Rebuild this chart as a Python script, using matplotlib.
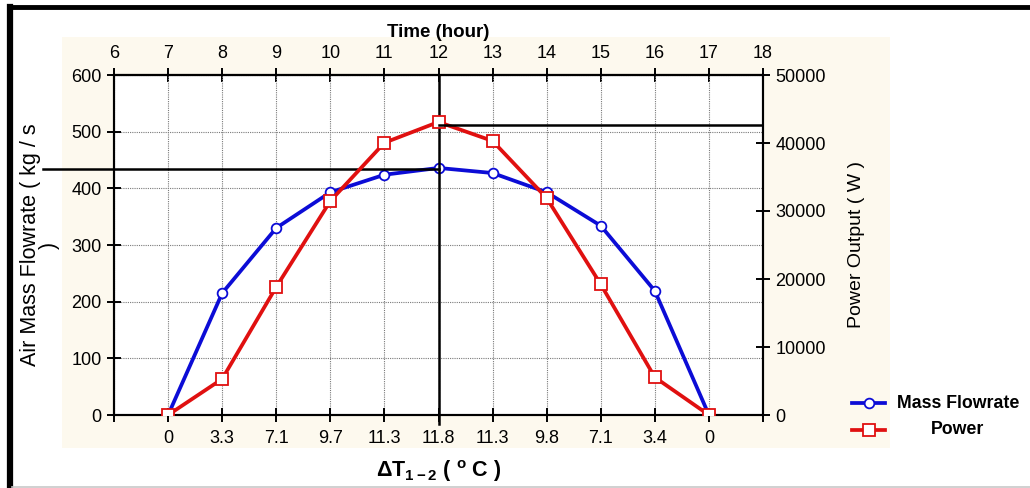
import matplotlib
matplotlib.use('Agg')
import matplotlib.pyplot as plt
from matplotlib.patches import Rectangle
from matplotlib.lines import Line2D

plt.rcParams['font.family'] = ['Liberation Sans', 'DejaVu Sans']
plt.rcParams['mathtext.fontset'] = 'custom'
plt.rcParams['mathtext.rm'] = 'Liberation Sans'
plt.rcParams['mathtext.bf'] = 'Liberation Sans:bold'

# hourly readings
hours = [7, 8, 9, 10, 11, 12, 13, 14, 15, 16, 17]
mass_flow = [0, 215, 330, 393, 424, 436, 427, 393, 334, 219, 0]          # kg/s
power = [0, 5300, 18830, 31470, 40040, 43090, 40300, 31900, 19220, 5540, 0]  # W
delta_t = ['0', '3.3', '7.1', '9.7', '11.3', '11.8', '11.3', '9.8', '7.1', '3.4', '0']

hour_ticks = list(range(6, 19))
flow_ticks = [0, 100, 200, 300, 400, 500, 600]
power_ticks = [0, 10000, 20000, 30000, 40000, 50000]

# guide lines through the peak
peak_hour = 12
flow_guide = 434
power_guide = 42700

blue = '#0c0cd6'
red = '#e01010'

fig = plt.figure(figsize=(10.30, 4.88), dpi=100)

# cream panel behind the chart + outer frame
fig.add_artist(Rectangle((62 / 1030, 1 - 448 / 488), (890 - 62) / 1030, (448 - 37) / 488,
                         transform=fig.transFigure, facecolor='#fdf9ee', edgecolor='none', zorder=-10))
fig.add_artist(Line2D([9.5 / 1030, 9.5 / 1030], [0, 1 - 7 / 488], transform=fig.transFigure,
                      color='black', lw=4.5, solid_capstyle='projecting'))
fig.add_artist(Line2D([9.5 / 1030, 1], [1 - 7 / 488, 1 - 7 / 488], transform=fig.transFigure,
                      color='black', lw=3.5))
fig.add_artist(Line2D([12 / 1030, 1], [1 - 486.5 / 488, 1 - 486.5 / 488], transform=fig.transFigure,
                      color='#c8c8c8', lw=1.2))

ax = fig.add_axes([114 / 1030, 1 - 415 / 488, (763 - 114) / 1030, (415 - 75) / 488])
ax.set_facecolor('white')
ax.set_xlim(6, 18)
ax.set_ylim(0, 600)

ax.grid(True, color='#7a7a7a', linestyle=(0, (1, 1)), linewidth=0.8)
ax.set_axisbelow(True)

ax.plot(hours, mass_flow, color=blue, lw=2.7, marker='o', ms=7,
        markerfacecolor='white', markeredgecolor=blue, markeredgewidth=1.3, zorder=3)

ax2 = ax.twinx()
ax2.set_ylim(0, 50000)
ax2.plot(hours, power, color=red, lw=2.7, marker='s', ms=8,
         markerfacecolor='white', markeredgecolor=red, markeredgewidth=1.3, zorder=3)

ax.axhline(flow_guide, xmin=-0.11, xmax=(peak_hour - 6) / 12, color='black', lw=1.8,
           clip_on=False, zorder=4)
ax2.axhline(power_guide, xmin=(peak_hour - 6) / 12, xmax=1, color='black', lw=1.8, zorder=4)
ax.axvline(peak_hour, ymin=-0.025, ymax=1, color='black', lw=1.8, clip_on=False, zorder=4)

# bottom axis: temperature difference per hour
ax.set_xticks(hour_ticks)
ax.set_xticklabels([''] + delta_t + [''])
ax.set_yticks(flow_ticks)
ax2.set_yticks(power_ticks)

top = ax.secondary_xaxis('top')
top.set_xticks(hour_ticks)
top.set_xticklabels([str(h) for h in hour_ticks])

for a in (ax, ax2, top):
    a.tick_params(direction='inout', length=10, width=1.4, labelsize=13, color='black', pad=4)
ax.tick_params(axis='x', pad=6)
for sp in ax.spines.values():
    sp.set_linewidth(1.5)
for sp in ax2.spines.values():
    sp.set_linewidth(1.5)
top.spines['top'].set_linewidth(1.5)

ax.set_ylabel('Air Mass Flowrate ( kg / s\n)', fontsize=15.5, labelpad=8, multialignment='center',
              linespacing=0.9)
ax2.set_ylabel('Power Output ( W )', fontsize=14, labelpad=16)
ax.set_xlabel(r'$\mathbf{\Delta T_{1-2}}$ ( $^{\mathbf{o}}$ C )', fontsize=15.5, fontweight='bold', labelpad=8)
top.set_xlabel('Time (hour)', fontsize=13.5, fontweight='bold', labelpad=6)

# legend
for y, c, m, ms, label in [(1 - 403 / 488, blue, 'o', 7, 'Mass Flowrate'),
                           (1 - 430 / 488, red, 's', 8, 'Power')]:
    fig.add_artist(Line2D([852 / 1030, 868.5 / 1030, 885 / 1030], [y, y, y], transform=fig.transFigure,
                          color=c, lw=2.7, marker=m, ms=ms, markevery=[1],
                          markerfacecolor='white', markeredgecolor=c, markeredgewidth=1.3))
    fig.text(958 / 1030, y, label, ha='center', va='center', fontsize=12.8, fontweight='bold')

fig.savefig('out.png', dpi=100)
